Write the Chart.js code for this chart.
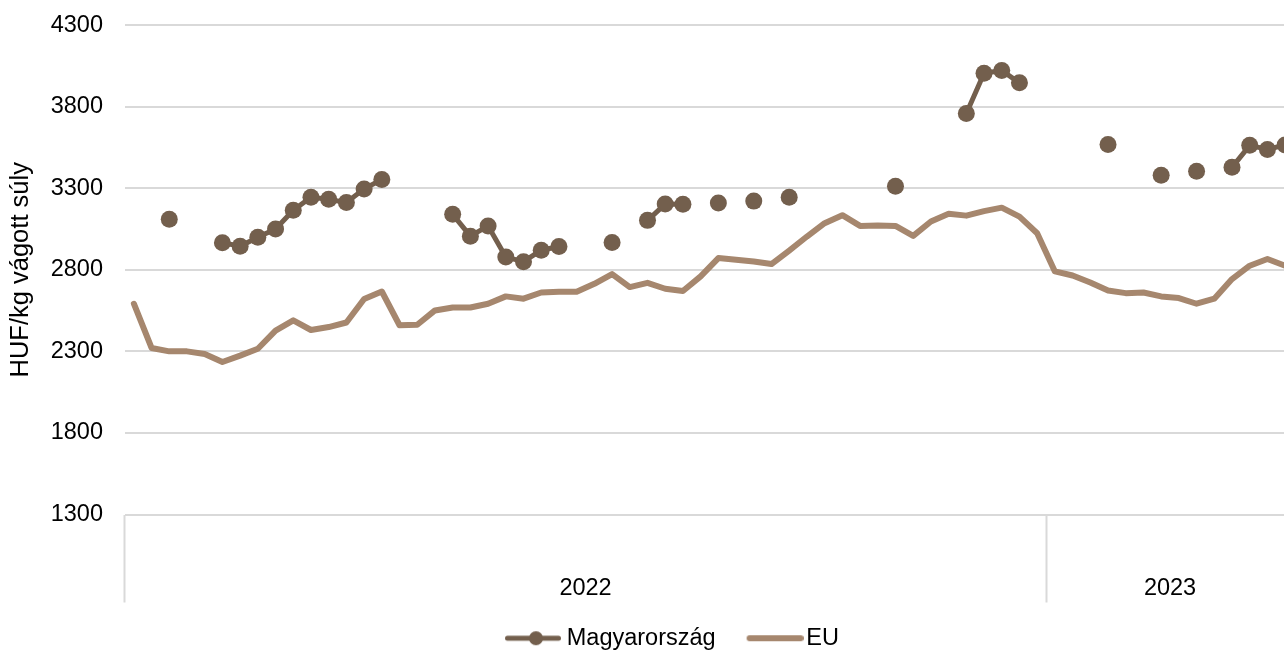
<!DOCTYPE html>
<html>
<head>
<meta charset="utf-8">
<script src="https://cdn.jsdelivr.net/npm/chart.js@4.4.1/dist/chart.umd.min.js"></script>
<style>
html,body{margin:0;padding:0;overflow:hidden;background:#fff;width:1284px;height:650px}
#wrap{position:absolute;left:0;top:0;width:1342px;height:660px}
</style>
</head>
<body>
<div id="wrap"><canvas id="c"></canvas></div>
<script>
// Weekly categories (2022 W1–W52, 2023 W1–W14)
const categories = [
  '2022-01','2022-02','2022-03','2022-04','2022-05','2022-06','2022-07','2022-08','2022-09','2022-10',
  '2022-11','2022-12','2022-13','2022-14','2022-15','2022-16','2022-17','2022-18','2022-19','2022-20',
  '2022-21','2022-22','2022-23','2022-24','2022-25','2022-26','2022-27','2022-28','2022-29','2022-30',
  '2022-31','2022-32','2022-33','2022-34','2022-35','2022-36','2022-37','2022-38','2022-39','2022-40',
  '2022-41','2022-42','2022-43','2022-44','2022-45','2022-46','2022-47','2022-48','2022-49','2022-50',
  '2022-51','2022-52',
  '2023-01','2023-02','2023-03','2023-04','2023-05','2023-06','2023-07','2023-08','2023-09','2023-10',
  '2023-11','2023-12','2023-13','2023-14'
];
const yearLabels = ['2022', '2023'];
const yTickValues = [1300, 1800, 2300, 2800, 3300, 3800, 4300];

const magyarorszag = [
  null, null, 3110, null, null, 2966, 2945, 3000, 3050, 3165,
  3245, 3232, 3212, 3296, 3354, null, null, null, 3140, 3006,
  3069, 2878, 2850, 2920, 2943, null, null, 2967, null, 3103,
  3203, 3202, null, 3209, null, 3221, null, 3245, null, null,
  null, null, null, 3312, null, null, null, 3758, 4005, 4022,
  3946, null,
  null, null, null, 3568, null, null, 3380, null, 3404, null,
  3428, 3563, 3538, 3565
];
const eu = [
  2592, 2321, 2300, 2300, 2284, 2235, 2274, 2316, 2427, 2490,
  2431, 2449, 2477, 2621, 2667, 2460, 2463, 2551, 2569, 2569,
  2592, 2637, 2623, 2661, 2665, 2665, 2714, 2774, 2694, 2720,
  2684, 2670, 2760, 2872, 2861, 2851, 2835, 2918, 3004, 3086,
  3135, 3069, 3071, 3069, 3008, 3096, 3143, 3132, 3160, 3181,
  3126, 3024,
  2790, 2765, 2722, 2673, 2657, 2661, 2637, 2627, 2592, 2623,
  2743, 2825, 2866, 2825
];

const HU_COLOR = '#735f4d';
const EU_COLOR = '#a6876e';
const GRID = '#d9d9d9';
const FONT = "'Liberation Sans', Arial, sans-serif";

const yearOf = i => categories[i].slice(0, 4);
// index of the category carrying each year's label (middle of its group)
const yearLabelIndex = {};
yearLabels.forEach(y => {
  const idx = categories.map((c, i) => c.startsWith(y) ? i : -1).filter(i => i >= 0);
  yearLabelIndex[idx[0] + idx.length / 2 - 1] = y;
});

function makeIcon(w, x0, x1, color, lw, mx, r) {
  const c = document.createElement('canvas');
  c.width = w; c.height = 20;
  const g = c.getContext('2d');
  g.strokeStyle = color; g.lineWidth = lw; g.lineCap = 'round';
  g.beginPath(); g.moveTo(x0 + lw / 2, 10); g.lineTo(x1 - lw / 2, 10); g.stroke();
  if (r) { g.fillStyle = color; g.beginPath(); g.arc(mx, 10, r, 0, Math.PI * 2); g.fill(); }
  return c;
}
const icons = [
  makeIcon(64, 8, 64, HU_COLOR, 5, 39, 7),
  makeIcon(70, 13, 70, EU_COLOR, 6, 0, 0)
];

Chart.defaults.font.family = FONT;
Chart.defaults.color = '#000';

new Chart(document.getElementById('c'), {
  type: 'line',
  data: {
    labels: categories,
    datasets: [
      {
        label: 'Magyarország',
        data: magyarorszag,
        borderColor: HU_COLOR,
        backgroundColor: HU_COLOR,
        borderWidth: 5,
        pointRadius: 8.5,
        pointBorderWidth: 0,
        pointBackgroundColor: HU_COLOR,
        pointStyle: 'circle',
        spanGaps: false,
        tension: 0,
        borderJoinStyle: 'round',
        borderCapStyle: 'round'
      },
      {
        label: 'EU',
        data: eu,
        borderColor: EU_COLOR,
        backgroundColor: EU_COLOR,
        borderWidth: 6,
        pointRadius: 0,
        tension: 0,
        borderJoinStyle: 'round',
        borderCapStyle: 'round'
      }
    ]
  },
  options: {
    responsive: true,
    maintainAspectRatio: false,
    animation: false,
    events: [],
    layout: { padding: { top: 0, left: 0, right: 0, bottom: 0 } },
    plugins: {
      tooltip: { enabled: false },
      legend: {
        position: 'bottom',
        align: 'center',
        labels: {
          usePointStyle: true,
          pointStyleWidth: 52,
          padding: 27,
          color: '#000',
          font: { size: 23.5, family: FONT },
          generateLabels: chart => chart.data.datasets.map((ds, i) => ({
            text: ds.label,
            pointStyle: icons[i],
            fillStyle: 'transparent',
            strokeStyle: 'transparent',
            lineWidth: 0,
            hidden: false,
            datasetIndex: i,
            fontColor: '#000'
          }))
        }
      }
    },
    scales: {
      x: {
        type: 'category',
        offset: true,
        border: { display: false },
        grid: {
          display: true,
          offset: true,
          drawOnChartArea: false,
          drawTicks: true,
          tickLength: 88,
          tickWidth: 2,
          tickColor: ctx => {
            const i = ctx.index;
            if (typeof i !== 'number' || i === 0 || i >= categories.length) return GRID;
            return yearOf(i) !== yearOf(i - 1) ? GRID : 'rgba(0,0,0,0)';
          }
        },
        ticks: {
          autoSkip: false,
          maxRotation: 0,
          minRotation: 0,
          padding: -28,
          labelOffset: 8.86,
          color: '#000',
          font: { size: 23.5, family: FONT },
          callback: (v, i) => yearLabelIndex[i] || ''
        },
        afterFit: s => { s.height = 85; }
      },
      y: {
        min: 1300,
        max: 4300,
        border: { display: false },
        grid: { color: GRID, lineWidth: 2, drawTicks: true, tickLength: 11, tickColor: 'rgba(0,0,0,0)' },
        afterBuildTicks: s => { s.ticks = yTickValues.map(v => ({ value: v })); },
        ticks: {
          padding: 11,
          color: '#000',
          font: { size: 23.5, family: FONT },
          callback: v => String(v)
        },
        title: {
          display: true,
          text: 'HUF/kg vágott súly',
          color: '#000',
          font: { size: 25.5, family: FONT },
          padding: { top: 6, bottom: 0 }
        },
        afterFit: s => { s.width = 125; }
      },
      yR: {
        type: 'linear',
        position: 'right',
        display: true,
        grid: { display: false },
        border: { display: false },
        ticks: { display: false },
        afterFit: s => { s.width = 48; }
      }
    }
  }
});
</script>
</body>
</html>
